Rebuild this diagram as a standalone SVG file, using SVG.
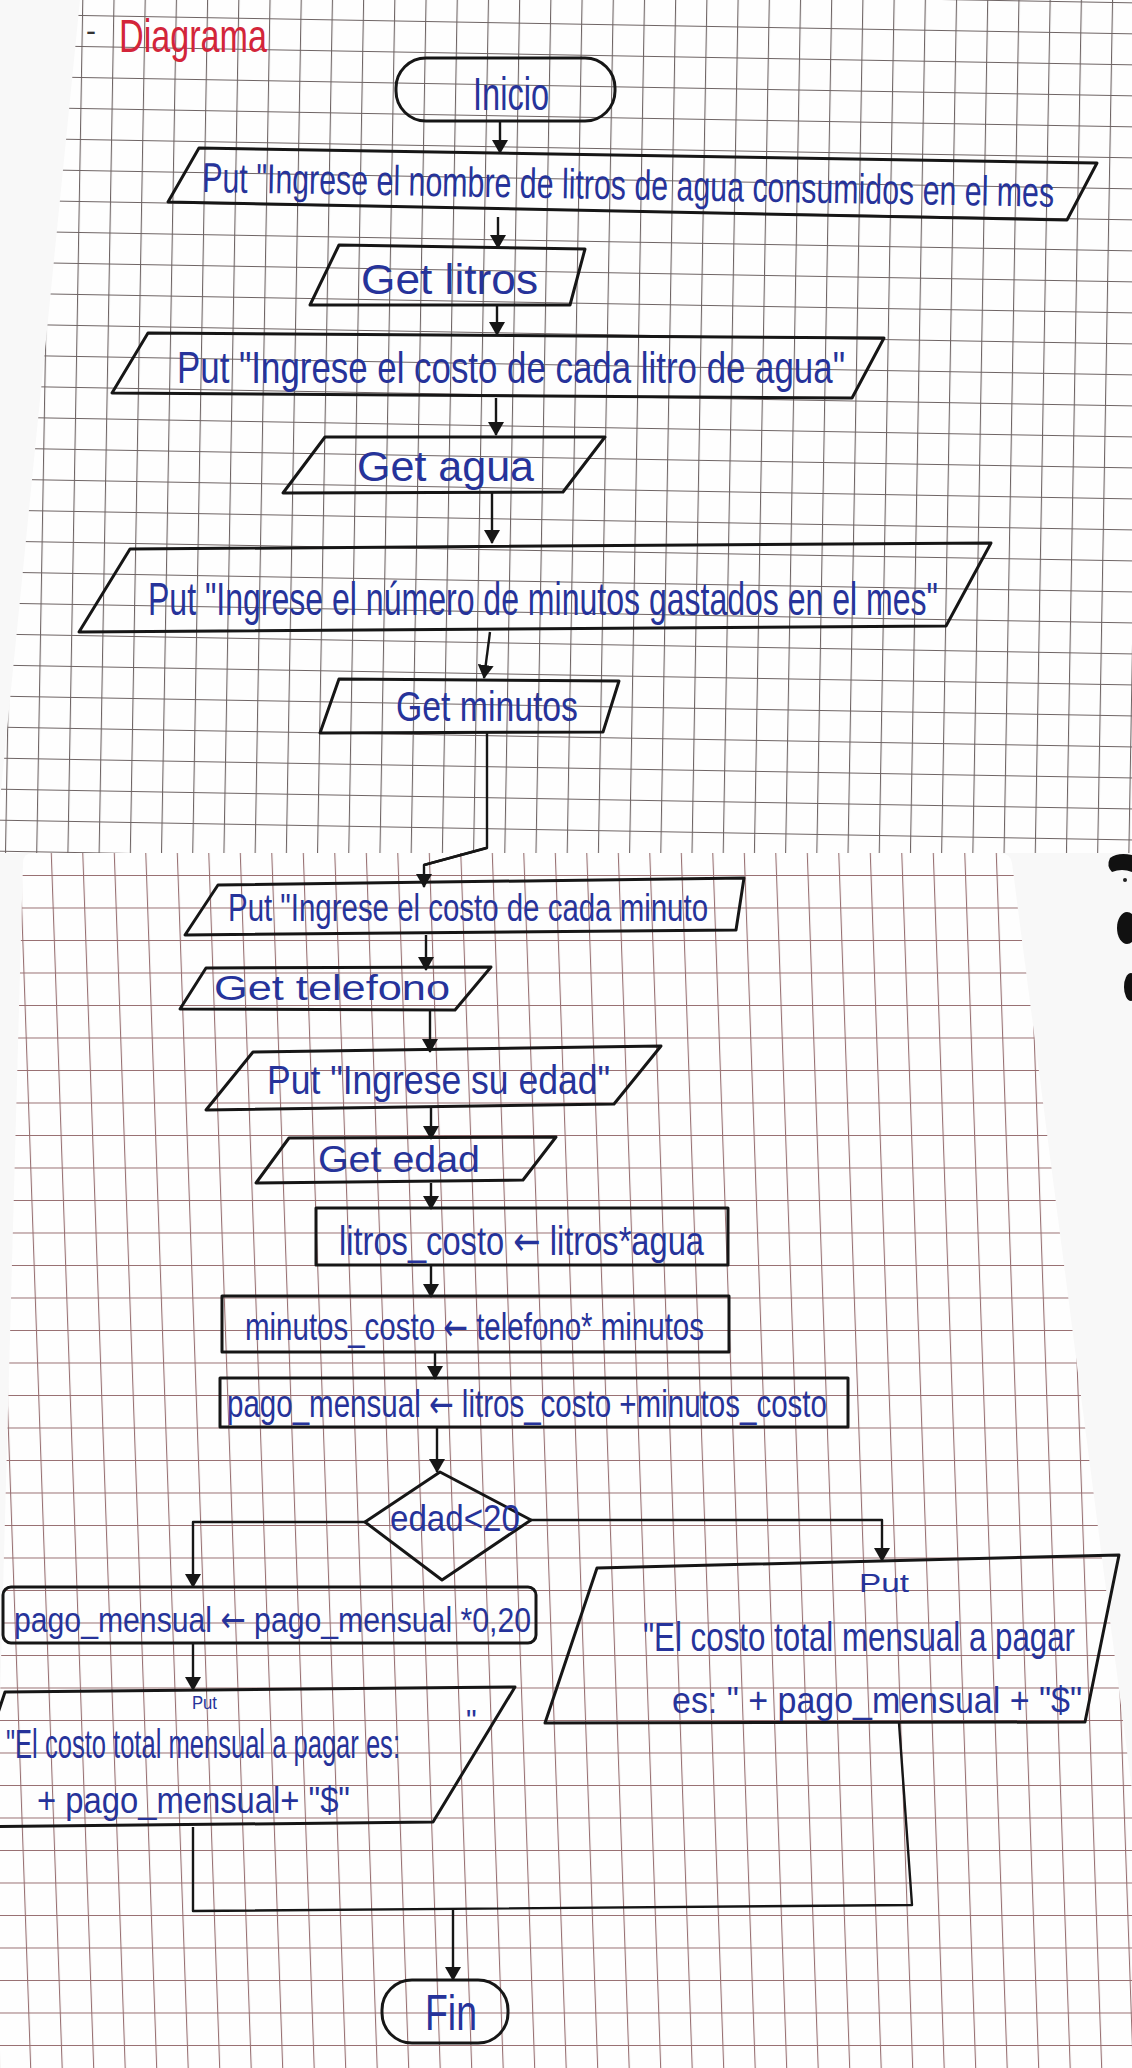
<svg xmlns="http://www.w3.org/2000/svg" width="1132" height="2068" viewBox="0 0 1132 2068">
<defs>
<style>
.shape{fill:none;stroke:#161616;stroke-width:3;stroke-linejoin:round}
.conn{fill:none;stroke:#161616;stroke-width:2.4;stroke-linejoin:round}
.t{font-family:"Liberation Sans",Arial,sans-serif;fill:#26339a}
.ar{font-family:"DejaVu Sans",sans-serif}
</style>
<pattern id="gridTop" width="31.2" height="31" patternUnits="userSpaceOnUse" patternTransform="translate(82 15) rotate(1)">
<path d="M0 0.5H31.2M0.5 0V31" stroke="#6e6464" stroke-width="1.2" fill="none"/>
</pattern>
<pattern id="gridBot" width="31.5" height="32.5" patternUnits="userSpaceOnUse" patternTransform="translate(20 875) skewX(2)">
<path d="M0 0.5H31.5M0.5 0V32.5" stroke="#987072" stroke-width="1.2" fill="none"/>
</pattern>
<marker id="arr" viewBox="0 0 14 16" markerWidth="14" markerHeight="16" refX="13" refY="8" orient="auto" markerUnits="userSpaceOnUse">
<path d="M0 0L14 8L0 16Z" fill="#161616"/>
</marker>
</defs>

<g id="background">
<rect x="0" y="0" width="1132" height="2068" fill="#f8f8f8"/>
<polygon points="80,0 1132,0 1132,853 0,853 0,800" fill="#fefefe"/>
<polygon points="80,0 1132,0 1132,853 0,853 0,800" fill="url(#gridTop)"/>
<path d="M33 853H1000Q1010 853 1012 863L1132 1790V2068H0V1700L23 863Q23 853 33 853Z" fill="#fefefe"/>
<path d="M33 853H1000Q1010 853 1012 863L1132 1790V2068H0V1700L23 863Q23 853 33 853Z" fill="url(#gridBot)"/>
<path d="M1110 858Q1118 852 1132 855V872Q1122 868 1112 872Q1106 866 1110 858Z" fill="#111"/>
<circle cx="1125" cy="880" r="2" fill="#222"/>
<ellipse cx="1127" cy="928" rx="10" ry="16" fill="#111"/>
<ellipse cx="1131" cy="987" rx="7" ry="14" fill="#111"/>
</g>

<g id="title">
<text x="86" y="41" font-family="Liberation Sans,sans-serif" font-size="30" fill="#333">-</text>
<text transform="translate(119 52) scale(1 1.39)" font-family="Liberation Sans,Arial,sans-serif" font-size="33" fill="#d3253a" textLength="148" lengthAdjust="spacingAndGlyphs">Diagrama</text>
</g>

<g id="connectors">
<path class="conn" d="M500 121V153" marker-end="url(#arr)"/>
<path class="conn" d="M498 217V248" marker-end="url(#arr)"/>
<path class="conn" d="M497 305V335" marker-end="url(#arr)"/>
<path class="conn" d="M496 398V435" marker-end="url(#arr)"/>
<path class="conn" d="M492 493V543" marker-end="url(#arr)"/>
<path class="conn" d="M490 632L484 678" marker-end="url(#arr)"/>
<path class="conn" d="M487 733V848L424 865V887" stroke-width="3" marker-end="url(#arr)"/>
<path class="conn" d="M486 848L424 865" stroke-width="5"/>
<path class="conn" d="M426 935V970" marker-end="url(#arr)"/>
<path class="conn" d="M430 1010V1052" marker-end="url(#arr)"/>
<path class="conn" d="M431 1106V1139" marker-end="url(#arr)"/>
<path class="conn" d="M431 1183V1209" marker-end="url(#arr)"/>
<path class="conn" d="M431 1265V1297" marker-end="url(#arr)"/>
<path class="conn" d="M435 1352V1379" marker-end="url(#arr)"/>
<path class="conn" d="M437 1427V1472" marker-end="url(#arr)"/>
<path class="conn" d="M365 1522H193V1587" marker-end="url(#arr)"/>
<path class="conn" d="M531 1520H882V1561" marker-end="url(#arr)"/>
<path class="conn" d="M193 1643V1690" marker-end="url(#arr)"/>
<path class="conn" d="M193 1827V1911L912 1905L899 1723"/>
<path class="conn" d="M453 1909V1980" marker-end="url(#arr)"/>
</g>

<g id="inicio">
<rect class="shape" x="396" y="58" width="219" height="63" rx="30"/>
<text class="t" transform="translate(473 110) scale(1 1.46)" font-size="31.6" textLength="76" lengthAdjust="spacingAndGlyphs">Inicio</text>
</g>

<g id="put-litros">
<polygon class="shape" points="199,148 1097,163 1067,220 168,202"/>
<text class="t" transform="translate(202 192) rotate(1) scale(1 1.43)" font-size="29.4" textLength="852" lengthAdjust="spacingAndGlyphs">Put "Ingrese el nombre de litros de agua consumidos en el mes</text>
</g>

<g id="get-litros">
<polygon class="shape" points="339,245 585,249 570,305 310,305"/>
<text class="t" x="361" y="294" font-size="43" textLength="177" lengthAdjust="spacingAndGlyphs">Get litros</text>
</g>

<g id="put-agua">
<polygon class="shape" points="148,333 884,338 852,398 112,393"/>
<text class="t" transform="translate(177 383) scale(1 1.3)" font-size="33.9" textLength="668" lengthAdjust="spacingAndGlyphs">Put "Ingrese el costo de cada litro de agua"</text>
</g>

<g id="get-agua">
<polygon class="shape" points="325,437 605,437 563,492 283,493"/>
<text class="t" x="357" y="481" font-size="42" textLength="177" lengthAdjust="spacingAndGlyphs">Get agua</text>
</g>

<g id="put-minutos">
<polygon class="shape" points="130,549 991,543 946,626 79,632"/>
<text class="t" transform="translate(148 615) scale(1 1.48)" font-size="31" textLength="790" lengthAdjust="spacingAndGlyphs">Put "Ingrese el número de minutos gastados en el mes"</text>
</g>

<g id="get-minutos">
<polygon class="shape" points="339,679 619,681 603,732 320,733"/>
<text class="t" transform="translate(396 721) scale(1 1.31)" font-size="32.8" textLength="182" lengthAdjust="spacingAndGlyphs">Get minutos</text>
</g>

<g id="put-telefono">
<polygon class="shape" points="218,885 744,878 736,930 185,935"/>
<text class="t" transform="translate(228 921) scale(1 1.33)" font-size="28.5" textLength="480" lengthAdjust="spacingAndGlyphs">Put "Ingrese el costo de cada minuto</text>
</g>

<g id="get-telefono">
<polygon class="shape" points="206,968 491,967 455,1010 180,1009"/>
<text class="t" x="214" y="1000" font-size="35" textLength="236" lengthAdjust="spacingAndGlyphs">Get telefono</text>
</g>

<g id="put-edad">
<polygon class="shape" points="253,1052 661,1046 614,1104 206,1110"/>
<text class="t" transform="translate(267 1094) scale(1 1.16)" font-size="34.4" textLength="343" lengthAdjust="spacingAndGlyphs">Put "Ingrese su edad"</text>
</g>

<g id="get-edad">
<polygon class="shape" points="289,1138 556,1137 523,1180 256,1183"/>
<text class="t" x="318" y="1172" font-size="36" textLength="162" lengthAdjust="spacingAndGlyphs">Get edad</text>
</g>

<g id="calc-litros">
<rect class="shape" x="316" y="1208" width="412" height="57"/>
<text class="t" transform="translate(339 1255) scale(1 1.28)" font-size="31.2" textLength="365" lengthAdjust="spacingAndGlyphs">litros_costo <tspan class="ar">←</tspan> litros*agua</text>
</g>

<g id="calc-minutos">
<rect class="shape" x="222" y="1296" width="507" height="56"/>
<text class="t" transform="translate(245 1340) scale(1 1.34)" font-size="28.3" textLength="459" lengthAdjust="spacingAndGlyphs">minutos_costo <tspan class="ar">←</tspan> telefono* minutos</text>
</g>

<g id="calc-pago">
<rect class="shape" x="220" y="1378" width="628" height="49"/>
<text class="t" transform="translate(227 1417) scale(1 1.34)" font-size="28.4" textLength="600" lengthAdjust="spacingAndGlyphs">pago_mensual <tspan class="ar">←</tspan> litros_costo +minutos_costo</text>
</g>

<g id="decision">
<polygon class="shape" points="440,1472 531,1520 442,1580 365,1522"/>
<text class="t" transform="translate(390 1531) scale(1 1.12)" font-size="32.2" textLength="130" lengthAdjust="spacingAndGlyphs">edad&lt;20</text>
</g>

<g id="descuento">
<rect class="shape" x="3" y="1587" width="533" height="56" rx="8"/>
<text class="t" transform="translate(14 1632) scale(1 1.24)" font-size="29" textLength="517" lengthAdjust="spacingAndGlyphs">pago_mensual <tspan class="ar">←</tspan> pago_mensual *0,20</text>
</g>

<g id="put-total-si">
<polygon class="shape" points="5,1692 515,1687 433,1822 -40,1827"/>
<text class="t" transform="translate(192 1709) scale(1 1.12)" font-size="16" textLength="25" lengthAdjust="spacingAndGlyphs">Put</text>
<text class="t" transform="translate(6 1758) scale(1 1.62)" font-size="24.7" textLength="394" lengthAdjust="spacingAndGlyphs">"El costo total mensual a pagar es:</text>
<text class="t" x="466" y="1730" font-size="30">"</text>
<text class="t" transform="translate(37 1813) scale(1 1.19)" font-size="31.8" textLength="313" lengthAdjust="spacingAndGlyphs">+ pago_mensual+ "$"</text>
</g>

<g id="put-total-no">
<polygon class="shape" points="597,1568 1119,1555 1085,1722 545,1723"/>
<text class="t" x="859" y="1592" font-size="26" textLength="50" lengthAdjust="spacingAndGlyphs">Put</text>
<text class="t" transform="translate(643 1651) scale(1 1.32)" font-size="30.4" textLength="432" lengthAdjust="spacingAndGlyphs">"El costo total mensual a pagar</text>
<text class="t" transform="translate(672 1713) scale(1 1.15)" font-size="32.2" textLength="410" lengthAdjust="spacingAndGlyphs">es: " + pago_mensual + "$"</text>
</g>

<g id="fin">
<rect class="shape" x="382" y="1980" width="126" height="63" rx="30"/>
<text class="t" transform="translate(425 2030) scale(1 1.38)" font-size="36.3" textLength="52" lengthAdjust="spacingAndGlyphs">Fin</text>
</g>
</svg>
